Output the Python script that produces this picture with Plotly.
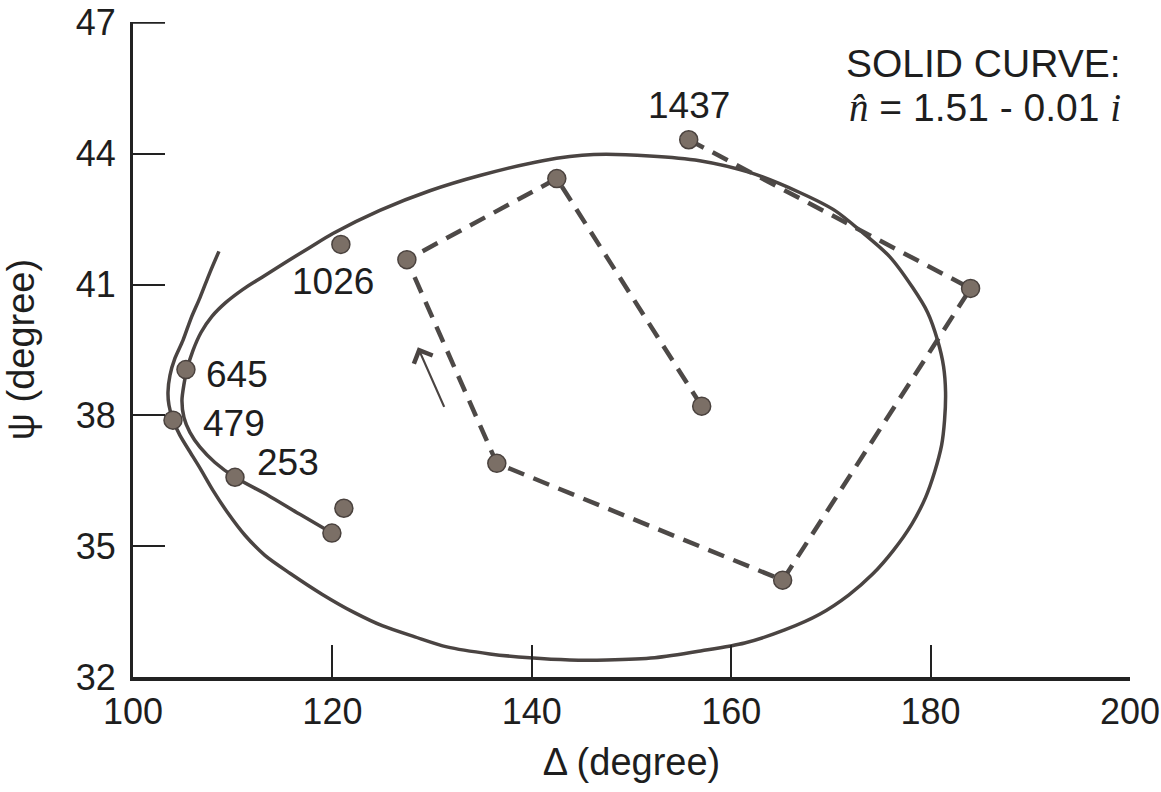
import plotly.graph_objects as go

# ---------------- data ----------------
# Solid curve: n = 1.51 - 0.01 i  (Delta, Psi in degrees), traced from its start
solid_delta = [119.95, 116.74, 113.53, 110.23, 108.22, 106.72, 105.71, 105.11, 104.91, 105.11,
               105.41, 106.02, 106.82, 107.92, 109.32, 111.03, 113.03, 115.44, 117.74, 120.05,
               124.76, 129.77, 134.79, 141.10, 146.22, 151.83, 156.84, 161.85, 166.87, 170.38,
               173.08, 175.89, 178.20, 179.70, 180.70, 181.30, 181.50, 181.40, 181.10, 180.40,
               179.50, 178.10, 176.29, 174.19, 171.78, 168.87, 165.36, 161.35, 157.04, 152.33,
               147.52, 143.81, 139.80, 135.79, 131.48, 128.27, 125.06, 122.26, 118.95, 115.74,
               113.23, 111.23, 109.52, 108.02, 106.72, 105.61, 104.71, 104.01, 103.61, 103.51,
               103.71, 104.21, 105.01, 105.81, 106.72, 107.72, 108.62]
solid_psi = [35.30, 35.73, 36.17, 36.58, 36.92, 37.27, 37.61, 37.95, 38.34, 38.71,
             39.05, 39.49, 39.90, 40.27, 40.59, 40.89, 41.18, 41.53, 41.85, 42.17,
             42.70, 43.15, 43.50, 43.84, 43.98, 43.95, 43.84, 43.57, 43.11, 42.70,
             42.21, 41.64, 40.93, 40.36, 39.72, 39.12, 38.53, 37.89, 37.31, 36.70,
             36.12, 35.50, 34.91, 34.36, 33.88, 33.44, 33.08, 32.78, 32.60, 32.44,
             32.39, 32.39, 32.44, 32.53, 32.69, 32.92, 33.17, 33.47, 33.90, 34.38,
             34.79, 35.25, 35.76, 36.28, 36.79, 37.20, 37.54, 37.89, 38.23, 38.53,
             38.92, 39.31, 39.72, 40.22, 40.70, 41.28, 41.76]

# Measured points along the dashed path (in order)
dashed_delta = [155.74, 184.01, 165.16, 136.49, 127.47, 142.51, 157.04]
dashed_psi = [44.32, 40.91, 34.22, 36.90, 41.57, 43.43, 38.21]

# Other measured points
point_delta = [119.95, 110.23, 104.01, 105.31, 121.15, 120.85]
point_psi = [35.30, 36.58, 37.89, 39.05, 35.87, 41.92]

# Labelled points
label_text = ["1437", "1026", "645", "479", "253"]
label_delta = [155.74, 120.85, 105.31, 104.01, 110.23]
label_psi = [44.32, 41.92, 39.05, 37.89, 36.58]

# Direction arrow (tail -> tip)
arrow_tail = (131.28, 38.16)
arrow_tip = (128.57, 39.56)

x_ticks = [100, 120, 140, 160, 180, 200]
y_ticks = [32, 35, 38, 41, 44, 47]

# ---------------- styles ----------------
FONT = "Liberation Sans, Arial, Helvetica, sans-serif"
SERIF = "Liberation Serif, DejaVu Serif, serif"
TXT = "#1e1e1e"
CURVE = "#4a4442"
DOT_FILL = "#7b6f66"
DOT_LINE = "#4a423e"
AXIS = "#222222"
TICKLEN = 32

fig = go.Figure()

fig.add_trace(go.Scatter(
    x=solid_delta, y=solid_psi, mode="lines",
    line=dict(color=CURVE, width=3.5, shape="spline", smoothing=0.8),
    hoverinfo="skip", showlegend=False))

fig.add_trace(go.Scatter(
    x=dashed_delta, y=dashed_psi, mode="lines",
    line=dict(color="#4d4947", width=4.5, dash="17px,10px"),
    hoverinfo="skip", showlegend=False))

fig.add_trace(go.Scatter(
    x=dashed_delta + point_delta, y=dashed_psi + point_psi, mode="markers",
    marker=dict(size=18, color=DOT_FILL, line=dict(color=DOT_LINE, width=1.5)),
    showlegend=False))

# label offsets (pixels) relative to their point
offsets = {
    "1437": dict(xshift=0, yshift=34, xanchor="center"),
    "1026": dict(xshift=-8, yshift=-37, xanchor="center"),
    "645": dict(xshift=18, yshift=-5, xanchor="left"),
    "479": dict(xshift=28, yshift=-3, xanchor="left"),
    "253": dict(xshift=20, yshift=15, xanchor="left"),
}
for t, xd, yd in zip(label_text, label_delta, label_psi):
    o = offsets[t]
    fig.add_annotation(x=xd, y=yd, text=t, showarrow=False,
                       xanchor=o["xanchor"], yanchor="middle",
                       xshift=o["xshift"], yshift=o["yshift"],
                       font=dict(family=FONT, size=37, color=TXT))

fig.add_annotation(x=arrow_tip[0], y=arrow_tip[1], ax=arrow_tail[0], ay=arrow_tail[1],
                   xref="x", yref="y", axref="x", ayref="y", text="",
                   showarrow=True, arrowhead=4, arrowsize=1.8, arrowwidth=2.2,
                   arrowcolor=CURVE)

fig.add_annotation(xref="paper", yref="paper", x=0.993, y=0.937, xanchor="right",
                   yanchor="middle", showarrow=False, align="right",
                   text="SOLID CURVE:", font=dict(family=FONT, size=39, color=TXT))
fig.add_annotation(xref="paper", yref="paper", x=0.993, y=0.870, xanchor="right",
                   yanchor="middle", showarrow=False, align="right",
                   text=f"<span style='font-family:{SERIF}'><i>n\u0302</i></span> = 1.51 - 0.01 "
                        f"<span style='font-family:{SERIF}'><i>i</i></span>",
                   font=dict(family=FONT, size=39, color=TXT))

# make sure the tick at the very top of the psi axis is drawn
fig.add_shape(type="line", xref="x domain", yref="y", x0=0, x1=TICKLEN / 996,
              y0=y_ticks[-1], y1=y_ticks[-1], line=dict(color=AXIS, width=2))

fig.update_xaxes(range=[100, 200], tickvals=x_ticks, ticktext=[str(v) for v in x_ticks],
                 ticks="inside", ticklen=TICKLEN, tickwidth=1.5, tickcolor=AXIS,
                 showline=True, linewidth=4, linecolor=AXIS, showgrid=False,
                 zeroline=False, ticklabeloverflow="allow",
                 tickfont=dict(family=FONT, size=36, color=TXT),
                 title=dict(text="\u0394 (degree)", standoff=18,
                            font=dict(family=FONT, size=38, color=TXT)))
fig.update_yaxes(range=[32, 47.02], tickvals=y_ticks, ticktext=[str(v) for v in y_ticks],
                 ticks="inside", ticklen=TICKLEN, tickwidth=2, tickcolor=AXIS,
                 showline=True, linewidth=3, linecolor=AXIS, showgrid=False,
                 zeroline=False, ticklabelstandoff=7, ticklabeloverflow="allow",
                 tickfont=dict(family=FONT, size=36, color=TXT),
                 title=dict(text="\u03c8 (degree)", standoff=30,
                            font=dict(family=FONT, size=38, color=TXT)))

fig.update_layout(width=1161, height=792, plot_bgcolor="white", paper_bgcolor="white",
                  margin=dict(l=133, r=31, t=22, b=115, autoexpand=False),
                  showlegend=False)

# remove the default 8px page margin so the figure fills the window exactly
fig.write_html("out.html", config={"displayModeBar": False},
               post_script="document.body.style.margin='0px';"
                           "document.body.style.overflow='hidden';")
